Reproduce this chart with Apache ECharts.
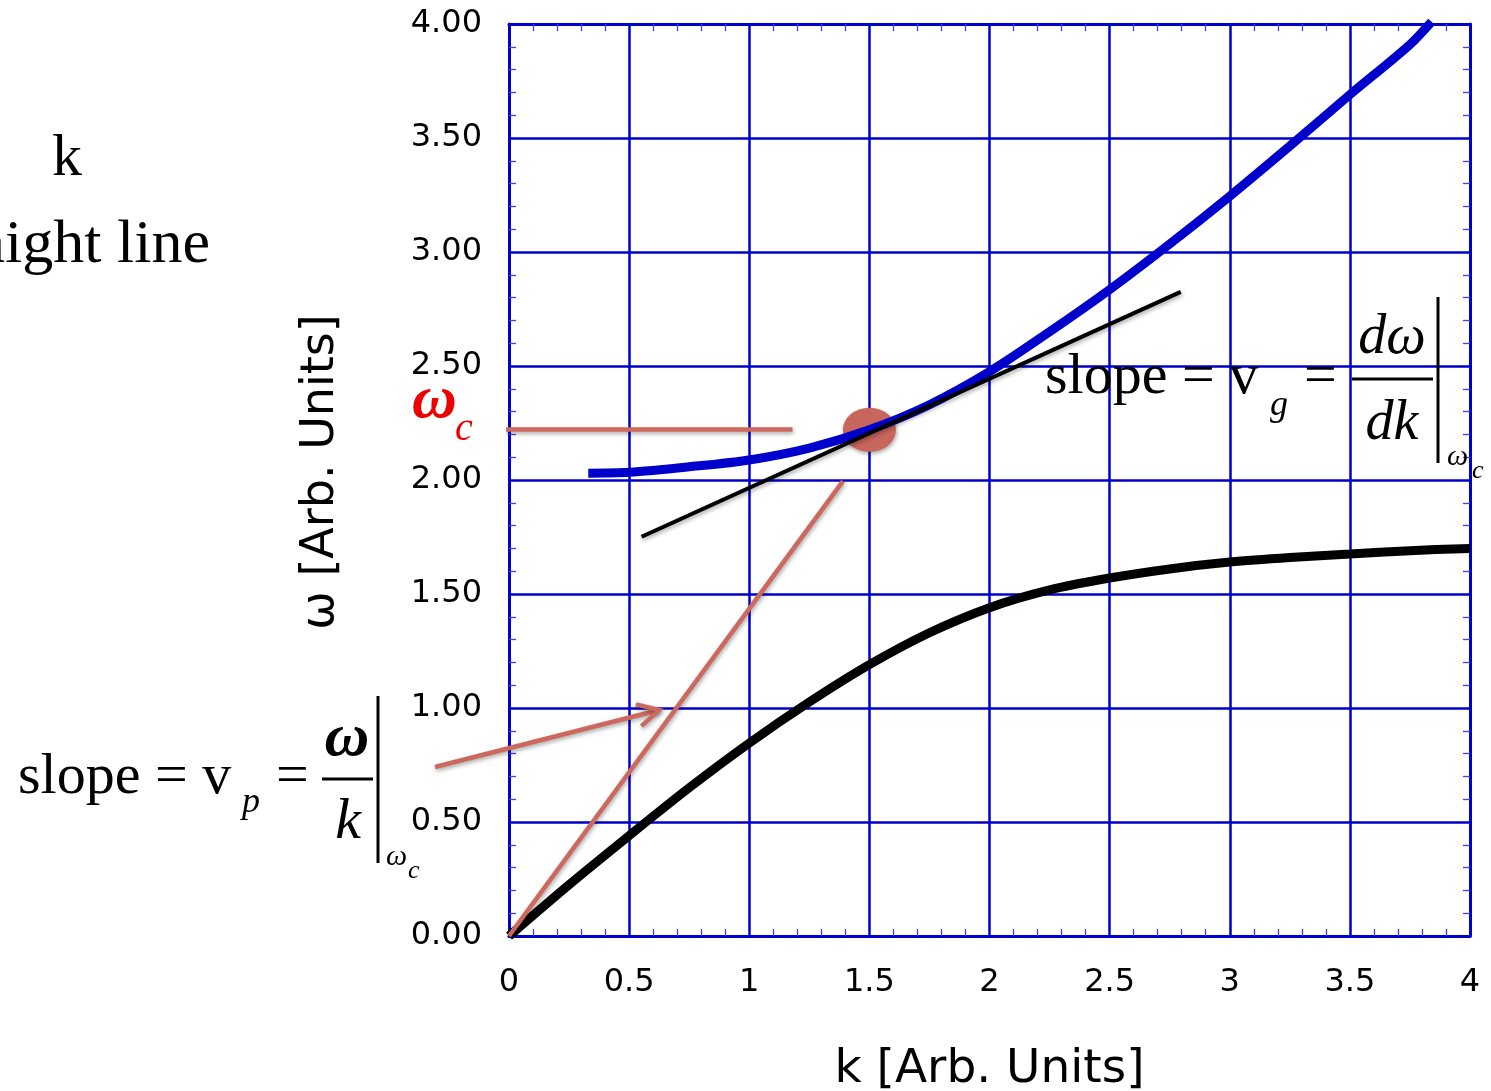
<!DOCTYPE html>
<html>
<head>
<meta charset="utf-8">
<script src="https://cdn.jsdelivr.net/npm/echarts@6/dist/echarts.min.js"></script>
<style>
  html, body { margin: 0; padding: 0; background: #ffffff; }
  #chart { width: 1491px; height: 1091px; }
</style>
</head>
<body>
<div id="chart"></div>
<script>
// Upper (blue) branch of the dispersion relation ω(k)
const upperK = [0.33, 0.5, 0.75, 1.0, 1.25, 1.5, 1.75, 2.0, 2.25, 2.5, 2.75, 3.0, 3.25, 3.5, 3.75, 3.84];
const upperW = [2.03, 2.034, 2.058, 2.088, 2.14, 2.22, 2.33, 2.475, 2.65, 2.835, 3.035, 3.245, 3.465, 3.69, 3.91, 4.01];

// Lower (black) branch
const lowerK = [0, 0.25, 0.5, 0.75, 1.0, 1.25, 1.5, 1.75, 2.0, 2.25, 2.5, 2.75, 3.0, 3.25, 3.5, 3.75, 4.0];
const lowerW = [0, 0.225, 0.44, 0.65, 0.846, 1.026, 1.19, 1.33, 1.44, 1.518, 1.57, 1.61, 1.64, 1.66, 1.675, 1.69, 1.70];

// Tangent to the upper branch at the operating point (group velocity)
const tangentK = [0.552, 2.796];
const tangentW = [1.751, 2.825];

// Operating point (k, ω_c)
const pointK = [1.5];
const pointW = [2.22];

// Horizontal marker at ω_c
const markerK = [-0.017, 1.18];
const markerW = [2.222, 2.222];

// Line through the origin (phase velocity)
const phaseK = [0, 1.39];
const phaseW = [0, 1.995];

// Arrow pointing at the phase line
const arrowK = [-0.308, 0.625];
const arrowW = [0.741, 0.991];

// Tick labels
const xTickLabels = ['0', '0.5', '1', '1.5', '2', '2.5', '3', '3.5', '4'];
const yTickLabels = ['0.00', '0.50', '1.00', '1.50', '2.00', '2.50', '3.00', '3.50', '4.00'];

const pairs = (xs, ys) => xs.map((x, i) => [x, ys[i]]);

const BLUE = '#0000cd';
const RED = '#cd685e';
const TICK_FONT = '"DejaVu Sans", Verdana, sans-serif';
const SERIF = '"Liberation Serif", "Times New Roman", serif';

const shadow = { shadowColor: 'rgba(0,0,0,0.35)', shadowBlur: 4, shadowOffsetX: 1, shadowOffsetY: 2 };

function axisBase(extra) {
  return Object.assign({
    type: 'value',
    min: 0,
    max: 4,
    interval: 0.5,
    axisLine: { show: true, onZero: false, lineStyle: { color: BLUE, width: 3 } },
    axisTick: { show: false, inside: true },
    minorTick: { show: true, splitNumber: 5, length: 7, lineStyle: { color: '#4040e0', width: 1.3 } },
    minorSplitLine: { show: false },
    nameMoveOverlap: false
  }, extra);
}

const chart = echarts.init(document.getElementById('chart'), null, { renderer: 'canvas' });

const option = {
  backgroundColor: '#ffffff',
  animation: false,
  grid: { left: 509, right: 21, top: 24, bottom: 155, outerBoundsMode: 'none', containLabel: false },
  xAxis: [
    axisBase({
      position: 'bottom',
      splitLine: { show: true, lineStyle: { color: BLUE, width: 2.5 } },
      axisLabel: {
        show: true, color: '#000', fontSize: 32, fontFamily: TICK_FONT, margin: 31,
        formatter: (v) => xTickLabels[Math.round(v / 0.5)]
      },
      name: 'k [Arb. Units]',
      nameLocation: 'middle',
      nameGap: 110,
      nameTextStyle: { color: '#000', fontSize: 47, fontFamily: TICK_FONT }
    }),
    axisBase({
      position: 'top',
      splitLine: { show: false },
      axisLabel: { show: false }
    })
  ],
  yAxis: [
    axisBase({
      position: 'left',
      splitLine: { show: true, lineStyle: { color: BLUE, width: 2.5 } },
      axisLabel: {
        show: true, color: '#000', fontSize: 32, fontFamily: TICK_FONT, margin: 27,
        padding: [10, 0, 0, 0],
        formatter: (v) => yTickLabels[Math.round(v / 0.5)]
      },
      name: 'ω [Arb. Units]',
      nameLocation: 'middle',
      nameGap: 165,
      nameRotate: 90,
      nameTextStyle: { color: '#000', fontSize: 46, fontFamily: TICK_FONT, padding: [0, 0, 0, 16] }
    }),
    axisBase({
      position: 'right',
      splitLine: { show: false },
      axisLabel: { show: false }
    })
  ],
  series: [
    {
      name: 'lower branch', type: 'line', data: pairs(lowerK, lowerW),
      showSymbol: false, smooth: 0.3,
      lineStyle: { color: '#000000', width: 9 }
    },
    {
      name: 'upper branch', type: 'line', data: pairs(upperK, upperW),
      showSymbol: false, smooth: 0.3, clip: false,
      lineStyle: { color: BLUE, width: 9 }
    },
    {
      name: 'phase line', type: 'line', data: pairs(phaseK, phaseW),
      showSymbol: false, clip: false,
      lineStyle: Object.assign({ color: RED, width: 4.5 }, shadow)
    },
    {
      name: 'omega_c marker', type: 'line', data: pairs(markerK, markerW),
      showSymbol: false, clip: false,
      lineStyle: Object.assign({ color: RED, width: 4.5 }, shadow)
    },
    {
      name: 'operating point', type: 'scatter', data: pairs(pointK, pointW),
      symbol: 'circle', symbolSize: [53, 44], clip: false,
      itemStyle: Object.assign({ color: '#c8655c', opacity: 1 }, shadow)
    },
    {
      name: 'tangent', type: 'line', data: pairs(tangentK, tangentW),
      showSymbol: false, clip: false,
      lineStyle: Object.assign({ color: '#000000', width: 4 }, shadow)
    }
  ]
};

chart.setOption(option);

// Arrow and formula annotations
function px(k, w) { return chart.convertToPixel({ xAxisIndex: 0, yAxisIndex: 0 }, [k, w]); }

const a0 = px(arrowK[0], arrowW[0]);
const a1 = px(arrowK[1], arrowW[1]);
const ang = Math.atan2(a0[1] - a1[1], a0[0] - a1[0]);
const wingLen = 24, wingAng = 28 * Math.PI / 180;
const w1 = [a1[0] + wingLen * Math.cos(ang + wingAng), a1[1] + wingLen * Math.sin(ang + wingAng)];
const w2 = [a1[0] + wingLen * Math.cos(ang - wingAng), a1[1] + wingLen * Math.sin(ang - wingAng)];

function txt(text, x, baseline, size, opts) {
  opts = opts || {};
  const style = opts.style || '';
  return {
    type: 'text', z: 100,
    style: {
      text: text,
      x: x,
      y: baseline - 0.34 * size,
      font: style + ' ' + size + 'px ' + SERIF,
      fill: opts.color || '#000000',
      align: opts.align || 'left',
      verticalAlign: 'middle'
    }
  };
}
function bar(x1, y1, x2, y2) {
  return { type: 'line', z: 100, shape: { x1: x1, y1: y1, x2: x2, y2: y2 }, style: { stroke: '#000', lineWidth: 3 } };
}

const graphics = [
  {
    type: 'polyline', z: 50,
    shape: { points: [a0, a1] },
    style: Object.assign({ stroke: RED, lineWidth: 4.5, fill: null }, shadow)
  },
  {
    type: 'polyline', z: 50,
    shape: { points: [w1, a1, w2] },
    style: Object.assign({ stroke: RED, lineWidth: 4.5, fill: null, lineJoin: 'miter' }, shadow)
  },

  // heading fragments at the upper left
  txt('k', 52, 180, 60),
  txt('straight line', 210, 267, 62, { align: 'right' }),

  // ω_c label
  txt('ω', 412, 422, 62, { style: 'italic bold', color: '#ee0000' }),
  txt('c', 455, 443, 40, { style: 'italic', color: '#ee0000' }),

  // slope = v_p = ω/k |ω_c
  txt('slope = v', 18, 797, 58),
  txt('p', 242, 815, 36, { style: 'italic' }),
  txt('=', 276, 797, 58),
  txt('ω', 347, 760, 62, { style: 'italic bold', align: 'center' }),
  bar(322, 779, 373, 779),
  txt('k', 348, 842, 58, { style: 'italic', align: 'center' }),
  bar(378, 696, 378, 863),
  txt('ω', 386, 867, 30, { style: 'italic' }),
  txt('c', 408, 880, 26, { style: 'italic' }),

  // slope = v_g = dω/dk |ω_c
  txt('slope = v', 1045, 397, 58),
  txt('g', 1270, 418, 36, { style: 'italic' }),
  txt('=', 1304, 397, 58),
  txt('dω', 1392, 357, 56, { style: 'italic', align: 'center' }),
  bar(1352, 379, 1433, 379),
  txt('dk', 1392, 443, 56, { style: 'italic', align: 'center' }),
  bar(1438, 297, 1438, 463),
  txt('ω', 1447, 467, 30, { style: 'italic' }),
  txt('c', 1472, 480, 26, { style: 'italic' })
];

chart.setOption({ graphic: graphics });
</script>
</body>
</html>
